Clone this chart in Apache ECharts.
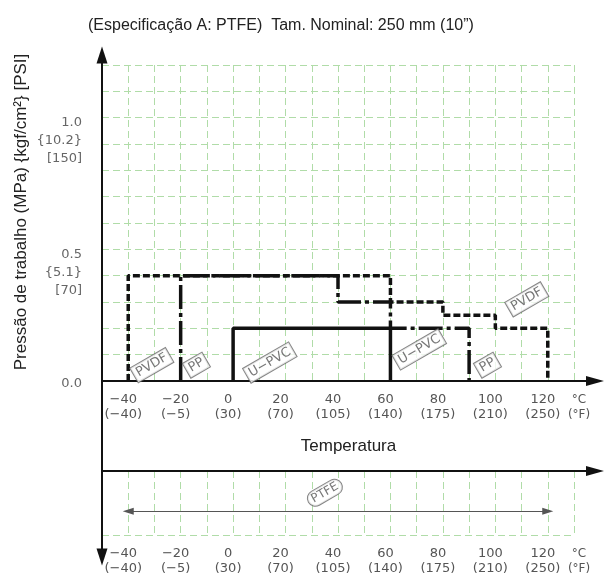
<!DOCTYPE html>
<html>
<head>
<meta charset="utf-8">
<script src="https://cdn.jsdelivr.net/npm/echarts@6/dist/echarts.min.js"></script>
<style>
html, body { margin: 0; padding: 0; background: #fff; }
#chart { width: 608px; height: 579px; }
</style>
</head>
<body>
<div id="chart"></div>
<script>
// tick labels
const celsiusTicks = [-40, -20, 0, 20, 40, 60, 80, 100, 120]
const fahrenheitTicks = ['(−40)', '(−5)', '(30)', '(70)', '(105)', '(140)', '(175)', '(210)', '(250)']
const pressureTicks = [0, 0.5, 1.0]
const kgfTicks = ['', '{5.1}', '{10.2}']
const psiTicks = ['', '[70]', '[150]']

// curves (temperature °C / pressure MPa)
const pvdfTemp = [-40, -40, 60, 60, 80, 80, 100, 100, 120, 120]
const pvdfPress = [0, 0.4, 0.4, 0.3, 0.3, 0.25, 0.25, 0.2, 0.2, 0]
const ppTemp = [-20, -20, 40, 40, 60, 60, 90, 90]
const ppPress = [0, 0.4, 0.4, 0.3, 0.3, 0.2, 0.2, 0]
const upvcTemp = [0, 0, 60, 60]
const upvcPress = [0, 0.2, 0.2, 0]

// boxed tags on the curves
const tagNames = ['PVDF', 'PP', 'U−PVC', 'U−PVC', 'PP', 'PVDF']
const tagTemp = [-31, -14, 14, 71, 97, 112]
const tagPress = [0.06, 0.06, 0.07, 0.12, 0.06, 0.31]

// PTFE range (lower band)
const ptfeTemp = [-40, 120]
const ptfeLevel = 0.37
const ptfeTag = [35, 0.66]

const zip = (xs, ys) => xs.map((x, i) => [x, ys[i]])

const gridGreen = { color: '#b0dca8', width: 1, type: [7, 4] }
const tickFont = 'DejaVu Sans'
const arrowLine = { show: true, onZero: false, lineStyle: { color: '#111', width: 2 } }

const tempLabel = (value) => {
    const i = celsiusTicks.indexOf(value)
    if (i >= 0) return String(celsiusTicks[i]).replace('-', '−') + '\n' + fahrenheitTicks[i]
    if (value === 130) return '{u|°C}\n{u|(°F)}'
    return ''
}

const tempAxisLabel = {
    show: true,
    margin: 11,
    color: '#555',
    fontFamily: tickFont,
    fontSize: 13,
    lineHeight: 15,
    padding: [0, 10, 0, 0],
    formatter: tempLabel,
    rich: { u: { fontFamily: tickFont, fontSize: 12, color: '#555', lineHeight: 15, padding: [0, 0, 0, 20] } }
}

let chart = echarts.init(document.getElementById('chart'))

const option = {
    animation: false,
    title: {
        text: '(Especificação A: PTFE)  Tam. Nominal: 250 mm (10”)',
        left: 83,
        top: 13,
        textStyle: { fontFamily: 'Liberation Sans', fontSize: 16, fontWeight: 'normal', color: '#222' }
    },
    grid: [
        { left: 102, right: 34, top: 65, bottom: 198 },   // upper panel
        { left: 102, right: 13, top: 65, bottom: 198 },   // upper arrow axis
        { left: 102, right: 34, top: 471, bottom: 44 },   // lower panel
        { left: 102, right: 13, top: 471, bottom: 44 },   // lower arrow axis
        { left: 102, right: 13, top: 55, bottom: 22 }     // long vertical axis
    ],
    xAxis: [
        {
            gridIndex: 0, type: 'value', min: -50, max: 130, interval: 10,
            axisLine: { show: false }, axisTick: { show: false }, axisLabel: { show: false },
            splitLine: { show: true, lineStyle: gridGreen }
        },
        {
            gridIndex: 1, type: 'value', min: -50, max: 138, interval: 10,
            axisLine: { ...arrowLine, symbol: ['none', 'triangle'], symbolSize: [10, 18] },
            axisTick: { show: false }, splitLine: { show: false },
            axisLabel: tempAxisLabel,
            name: 'Temperatura', nameLocation: 'middle', nameGap: 57,
            nameTextStyle: { fontFamily: 'Liberation Sans', fontSize: 17, color: '#222' }
        },
        {
            gridIndex: 2, type: 'value', min: -50, max: 130, interval: 10,
            axisLine: { show: false }, axisTick: { show: false }, axisLabel: { show: false },
            splitLine: { show: true, lineStyle: gridGreen }
        },
        {
            gridIndex: 3, type: 'value', position: 'top', min: -50, max: 138, interval: 10,
            axisLine: { ...arrowLine, symbol: ['none', 'triangle'], symbolSize: [10, 18] },
            axisTick: { show: false }, axisLabel: { show: false }, splitLine: { show: false }
        },
        {
            gridIndex: 3, type: 'value', position: 'bottom', min: -50, max: 138, interval: 10,
            axisLine: { show: false, onZero: false }, axisTick: { show: false }, splitLine: { show: false },
            axisLabel: tempAxisLabel
        },
        { gridIndex: 4, type: 'value', min: 0, max: 1, show: false }
    ],
    yAxis: [
        {
            gridIndex: 0, type: 'value', min: 0, max: 1.2, interval: 0.1,
            axisLine: { show: false }, axisTick: { show: false },
            splitLine: { show: true, lineStyle: gridGreen },
            axisLabel: {
                margin: 20,
                color: '#666',
                fontFamily: tickFont,
                fontSize: 13,
                lineHeight: 18,
                align: 'right',
                verticalAlign: 'middle',
                formatter: (value) => {
                    const i = pressureTicks.findIndex(t => Math.abs(t - value) < 1e-6)
                    if (i < 0) return ''
                    if (!kgfTicks[i]) return '{s|\u00a0}\n' + pressureTicks[i].toFixed(1) + '\n{t|\u00a0}'
                    return '{s|\u00a0}\n{s|\u00a0}\n' + pressureTicks[i].toFixed(1) + '\n' + kgfTicks[i] + '\n' + psiTicks[i]
                },
                rich: {
                    s: { fontSize: 13, lineHeight: 23 },
                    t: { fontSize: 13, lineHeight: 18 }
                }
            },
            name: 'Pressão de trabalho (MPa) {kgf/cm²} [PSI]',
            nameLocation: 'middle', nameRotate: 90, nameGap: 72, nameMoveOverlap: false,
            nameTextStyle: { fontFamily: 'Liberation Sans', fontSize: 17, color: '#222', padding: [0, 0, 0, 22] }
        },
        { gridIndex: 1, type: 'value', min: 0, max: 1.2, show: false },
        {
            gridIndex: 2, type: 'value', min: 0, max: 1, interval: 1,
            axisLine: { show: false }, axisTick: { show: false }, axisLabel: { show: false },
            splitLine: { show: true, lineStyle: gridGreen }
        },
        { gridIndex: 3, type: 'value', min: 0, max: 1, show: false },
        {
            gridIndex: 4, type: 'value', min: 0, max: 1,
            axisLine: { ...arrowLine, symbol: ['triangle', 'triangle'], symbolSize: [11, 17] },
            axisTick: { show: false }, axisLabel: { show: false }, splitLine: { show: false }
        }
    ],
    series: [
        {
            name: 'PVDF', type: 'line', xAxisIndex: 0, yAxisIndex: 0,
            data: zip(pvdfTemp, pvdfPress), showSymbol: false, z: 3,
            lineStyle: { color: '#111', width: 3.5, type: [7, 3] }
        },
        {
            name: 'PP', type: 'line', xAxisIndex: 0, yAxisIndex: 0,
            data: zip(ppTemp, ppPress), showSymbol: false, z: 4,
            lineStyle: { color: '#111', width: 3.5, type: [24, 4, 4, 4] }
        },
        {
            name: 'U-PVC', type: 'line', xAxisIndex: 0, yAxisIndex: 0,
            data: zip(upvcTemp, upvcPress), showSymbol: false, z: 5,
            lineStyle: { color: '#111', width: 3.5 }
        },
        {
            name: 'tags', type: 'scatter', xAxisIndex: 0, yAxisIndex: 0,
            symbolSize: 1, itemStyle: { color: 'transparent' }, z: 6,
            data: tagNames.map((n, i) => ({ name: n, value: [tagTemp[i], tagPress[i]] })),
            label: {
                show: true, position: 'inside', formatter: '{b}', rotate: 30,
                fontFamily: tickFont, fontSize: 13, color: '#555',
                backgroundColor: '#fff', borderColor: '#666', borderWidth: 1, padding: [2, 3, 1, 3]
            }
        },
        {
            name: 'PTFE', type: 'line', xAxisIndex: 2, yAxisIndex: 2,
            data: ptfeTemp.map(t => [t, ptfeLevel]), showSymbol: false,
            lineStyle: { opacity: 0 },
            markLine: {
                silent: true,
                symbol: ['triangle', 'triangle'],
                symbolSize: [7, 11],
                label: { show: false },
                lineStyle: { color: '#555', width: 1, type: 'solid' },
                itemStyle: { color: '#fff', borderColor: '#555', borderWidth: 1 },
                data: [[{ coord: [ptfeTemp[0], ptfeLevel] }, { coord: [ptfeTemp[1], ptfeLevel] }]]
            }
        },
        {
            name: 'PTFE tag', type: 'scatter', xAxisIndex: 2, yAxisIndex: 2,
            symbolSize: 1, itemStyle: { color: 'transparent' },
            data: [{ name: 'PTFE', value: ptfeTag }],
            label: {
                show: true, position: 'inside', formatter: '{b}', rotate: 30,
                fontFamily: tickFont, fontSize: 12, color: '#555',
                backgroundColor: '#fff', borderColor: '#666', borderWidth: 1, borderRadius: 8, padding: [2, 4, 1, 4]
            }
        }
    ]
}

chart.setOption(option)

window.addEventListener('resize', () => {
    chart && chart.resize()
})
</script>
</body>
</html>
